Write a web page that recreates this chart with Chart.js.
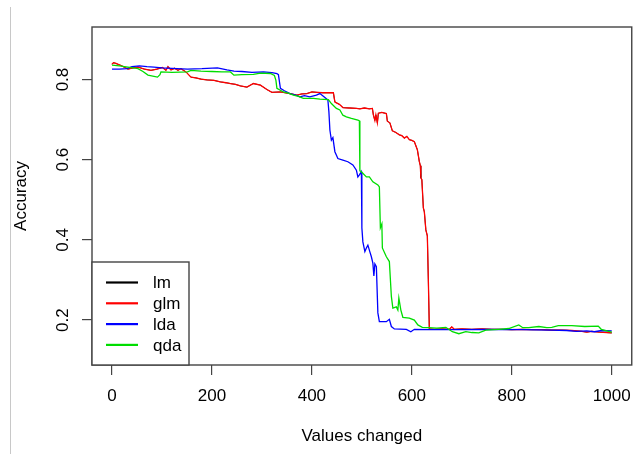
<!DOCTYPE html>
<html>
<head>
<meta charset="utf-8">
<script src="https://cdn.jsdelivr.net/npm/chart.js@4.4.1/dist/chart.umd.min.js"></script>
<style>
  html, body { margin: 0; padding: 0; background: #fff; }
  #wrap { width: 642px; height: 454px; position: relative; }
</style>
</head>
<body>
<div id="wrap"><canvas id="accChart"></canvas></div>
<script>
// axis ticks
const xTicks = [0, 200, 400, 600, 800, 1000];
const yTicks = [0.2, 0.4, 0.6, 0.8];

// glm (lm lies under it)
const glmX = [0, 3, 8, 18, 32, 42, 52, 65, 78, 90, 101, 108, 112, 118, 125, 132, 138, 148, 158, 168,
  178, 190, 204, 217, 228, 237, 247, 257, 270, 283, 297, 310, 320, 337, 356, 370, 380, 390, 400, 410,
  422, 443, 446, 455, 462, 475, 489, 496, 505, 515, 521, 523, 526, 528, 531, 533, 540, 549, 551, 556,
  561, 568, 575, 580, 585, 590, 595, 600, 605, 611, 615, 617, 618, 620, 623, 625, 628, 631, 633, 635,
  645, 660, 675, 680, 685, 700, 720, 740, 760, 780, 800, 820, 840, 860, 880, 900, 920, 940, 950, 960,
  975, 990, 1000];
const glmY = [0.838, 0.842, 0.840, 0.835, 0.826, 0.829, 0.831, 0.826, 0.823, 0.826, 0.830, 0.823, 0.832, 0.824, 0.828, 0.823, 0.827, 0.819, 0.806, 0.804,
  0.801, 0.799, 0.798, 0.794, 0.792, 0.790, 0.788, 0.784, 0.781, 0.790, 0.786, 0.775, 0.768, 0.769, 0.765, 0.761, 0.764, 0.765, 0.769, 0.768,
  0.767, 0.767, 0.744, 0.738, 0.730, 0.729, 0.728, 0.727, 0.729, 0.727, 0.728, 0.712, 0.698, 0.712, 0.692, 0.716, 0.718, 0.715, 0.696, 0.692,
  0.672, 0.668, 0.662, 0.660, 0.654, 0.658, 0.650, 0.648, 0.645, 0.625, 0.595, 0.585, 0.555, 0.550, 0.480, 0.470, 0.425, 0.410, 0.300, 0.178,
  0.177, 0.178, 0.177, 0.183, 0.177, 0.178, 0.177, 0.178, 0.177, 0.177, 0.176, 0.177, 0.176, 0.176, 0.175, 0.175, 0.174, 0.172, 0.170, 0.172,
  0.170, 0.169, 0.168];
const lmX = glmX.slice();
const lmY = glmY.slice();

// lda
const ldaX = [0, 15, 30, 40, 55, 70, 84, 100, 120, 151, 180, 211, 230, 244, 260, 280, 303, 320, 330, 333,
  337, 345, 356, 366, 376, 385, 396, 409, 416, 426, 432, 434, 436, 439, 442, 446, 452, 462, 472, 482,
  489, 492, 495, 499, 500, 502, 506, 509, 512, 516, 519, 522, 524, 526, 529, 532, 535, 549, 555, 559,
  565, 589, 598, 605, 640, 700, 760, 820, 880, 910, 930, 950, 965, 980, 1000];
const ldaY = [0.826, 0.826, 0.827, 0.832, 0.834, 0.832, 0.831, 0.829, 0.828, 0.826, 0.827, 0.829, 0.824, 0.821, 0.820, 0.818, 0.819, 0.817, 0.815, 0.812,
  0.778, 0.772, 0.765, 0.762, 0.757, 0.760, 0.757, 0.761, 0.765, 0.755, 0.749, 0.720, 0.674, 0.649, 0.655, 0.620, 0.603, 0.599, 0.595, 0.587,
  0.574, 0.557, 0.562, 0.570, 0.430, 0.395, 0.371, 0.380, 0.387, 0.370, 0.358, 0.342, 0.310, 0.340, 0.333, 0.218, 0.196, 0.196, 0.202, 0.184,
  0.178, 0.177, 0.171, 0.177, 0.176, 0.176, 0.177, 0.176, 0.175, 0.174, 0.172, 0.173, 0.171, 0.174, 0.173];

// qda
const qdaX = [0, 15, 32, 52, 62, 72, 91, 96, 98, 120, 151, 158, 178, 200, 220, 237, 244, 260, 283, 297,
  317, 325, 328, 330, 343, 353, 363, 373, 383, 403, 416, 433, 439, 449, 456, 462, 469, 479, 492, 495,
  496, 499, 509, 515, 522, 532, 535, 537, 540, 541, 549, 555, 559, 562, 569, 572, 574, 578, 582, 595,
  605, 612, 621, 634, 650, 668, 681, 694, 708, 720, 734, 748, 774, 794, 814, 822, 834, 854, 870, 880,
  893, 920, 946, 973, 979, 990, 1000];
const qdaY = [0.836, 0.834, 0.831, 0.827, 0.820, 0.811, 0.806, 0.812, 0.819, 0.818, 0.819, 0.823, 0.821, 0.820, 0.819, 0.819, 0.811, 0.812, 0.813, 0.816,
  0.815, 0.810, 0.798, 0.778, 0.769, 0.766, 0.761, 0.758, 0.753, 0.753, 0.751, 0.750, 0.740, 0.728, 0.724, 0.711, 0.707, 0.703, 0.699, 0.697,
  0.572, 0.570, 0.557, 0.557, 0.545, 0.537, 0.532, 0.430, 0.440, 0.380, 0.358, 0.346, 0.259, 0.230, 0.233, 0.225, 0.255, 0.225, 0.207, 0.205,
  0.200, 0.188, 0.182, 0.181, 0.180, 0.182, 0.171, 0.166, 0.171, 0.169, 0.168, 0.175, 0.177, 0.179, 0.188, 0.181, 0.181, 0.184, 0.181, 0.182,
  0.186, 0.186, 0.184, 0.185, 0.177, 0.173, 0.170];

const seriesNames = ['lm', 'glm', 'lda', 'qda'];
const seriesColors = ['#000000', '#ff0000', '#0000ff', '#00dd00'];
const seriesWidths = [0.8, 1.3, 1.3, 1.3];

function pts(xs, ys) {
    return xs.map((x, i) => ({ x: x, y: ys[i] }));
}

Chart.defaults.font.family = "'Liberation Sans', Arial, sans-serif";
Chart.defaults.font.size = 17;
Chart.defaults.color = '#000';

// R style box, legend and the grey page edge
const rFrame = {
    id: 'rFrame',
    beforeDraw(chart) {
        const ctx = chart.ctx;
        ctx.save();
        ctx.strokeStyle = '#c8c8c8';
        ctx.lineWidth = 1;
        ctx.beginPath();
        ctx.moveTo(10.5, 7);
        ctx.lineTo(10.5, 454);
        ctx.stroke();
        ctx.restore();
    },
    afterDatasetsDraw(chart) {
        const ctx = chart.ctx;
        const ca = chart.chartArea;
        ctx.save();
        ctx.strokeStyle = '#444';
        ctx.lineWidth = 1.4;
        ctx.strokeRect(ca.left, ca.top, ca.right - ca.left, ca.bottom - ca.top);

        // legend bottom-left
        const bw = 97, bh = 103;
        const bx = ca.left, by = ca.bottom - bh;
        ctx.fillStyle = '#fff';
        ctx.fillRect(bx, by, bw, bh);
        ctx.strokeRect(bx, by, bw, bh);
        ctx.font = "17px 'Liberation Sans', Arial, sans-serif";
        ctx.textBaseline = 'middle';
        ctx.textAlign = 'left';
        chart.data.datasets.forEach((ds, i) => {
            const yy = by + 20.5 + i * 20.8;
            ctx.strokeStyle = ds.borderColor;
            ctx.lineWidth = 2.2;
            ctx.beginPath();
            ctx.moveTo(bx + 14, yy);
            ctx.lineTo(bx + 46, yy);
            ctx.stroke();
            ctx.fillStyle = '#000';
            ctx.fillText(ds.label, bx + 61, yy + 1);
        });
        ctx.restore();
    }
};

const xsList = [lmX, glmX, ldaX, qdaX];
const ysList = [lmY, glmY, ldaY, qdaY];

new Chart(document.getElementById('accChart'), {
    type: 'line',
    data: {
        datasets: seriesNames.map((name, i) => ({
            label: name,
            data: pts(xsList[i], ysList[i]),
            borderColor: seriesColors[i],
            backgroundColor: seriesColors[i],
            borderWidth: seriesWidths[i],
            pointRadius: 0,
            tension: 0,
            fill: false,
            order: 4 - i
        }))
    },
    options: {
        responsive: true,
        maintainAspectRatio: false,
        animation: false,
        events: [],
        layout: { padding: { left: 0, top: 27, right: 9, bottom: 0 } },
        plugins: {
            legend: { display: false },
            tooltip: { enabled: false }
        },
        scales: {
            x: {
                type: 'linear',
                min: -40,
                max: 1040,
                afterBuildTicks: s => { s.ticks = xTicks.map(v => ({ value: v })); },
                afterFit: s => { s.height = 89; },
                grid: { drawOnChartArea: false, drawTicks: true, tickLength: 10, color: '#444', lineWidth: 1.2 },
                border: { display: false },
                ticks: { padding: 11, maxRotation: 0, autoSkip: false, callback: v => String(v) },
                title: { display: true, text: 'Values changed', padding: { top: 0, bottom: 7 } }
            },
            y: {
                type: 'linear',
                min: 0.088,
                max: 0.931,
                afterBuildTicks: s => { s.ticks = yTicks.map(v => ({ value: v })); },
                afterFit: s => { s.width = 92; },
                grid: { drawOnChartArea: false, drawTicks: true, tickLength: 10, color: '#444', lineWidth: 1.2 },
                border: { display: false },
                ticks: { padding: 7, minRotation: 90, maxRotation: 90, crossAlign: 'center', autoSkip: false, callback: v => v.toFixed(1) },
                title: { display: true, text: 'Accuracy', padding: { top: 11, bottom: 0 } }
            }
        }
    },
    plugins: [rFrame]
});
</script>
</body>
</html>
